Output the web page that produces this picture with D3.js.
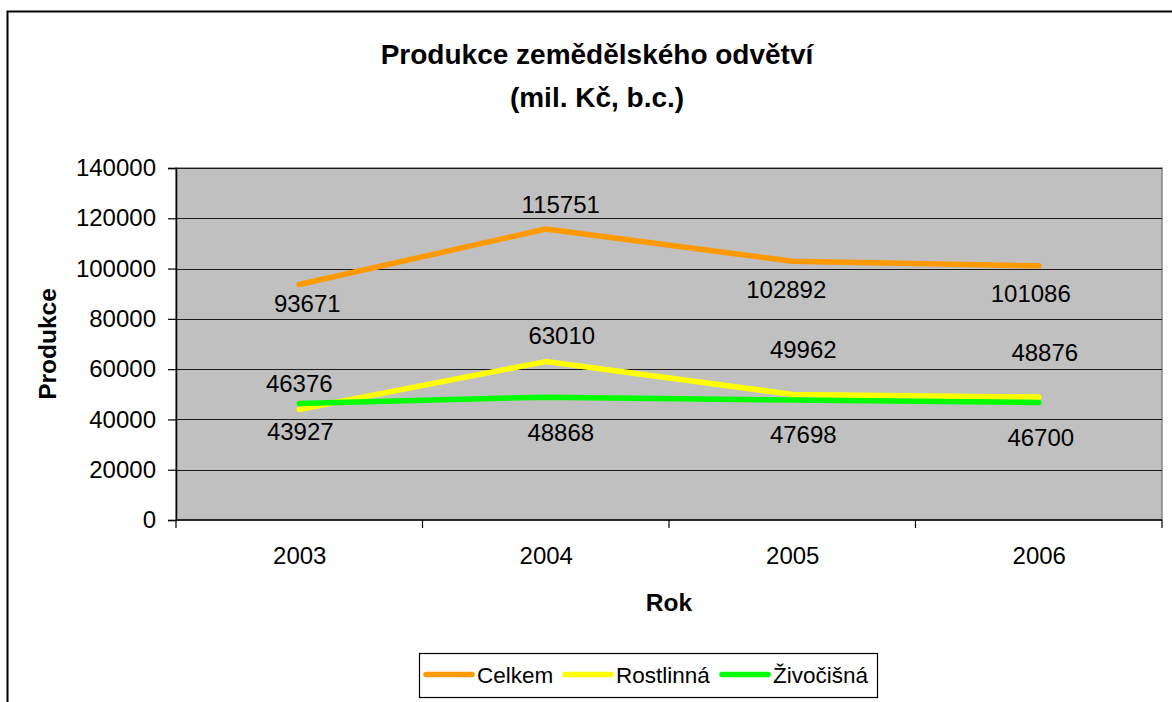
<!DOCTYPE html>
<html>
<head>
<meta charset="utf-8">
<script src="https://cdn.jsdelivr.net/npm/d3@7"></script>
<style>
  body { margin: 0; background: #fff; }
  text { font-family: "Liberation Sans", Arial, sans-serif; fill: #000; }
</style>
</head>
<body>
<script>
// data
const years = ["2003", "2004", "2005", "2006"];
const celkem = [93671, 115751, 102892, 101086];
const rostlinna = [43927, 63010, 49962, 48876];
const zivocisna = [46376, 48868, 47698, 46700];
const seriesNames = ["Celkem", "Rostlinná", "Živočišná"];
const yTicks = [0, 20000, 40000, 60000, 80000, 100000, 120000, 140000];

// label nudges (px) relative to each point, as placed in the original
const labelShift = [
  [[8, 19], [15, -25], [-6, 28], [-8, 28]],
  [[1, 22], [16, -26], [11, -45], [6, -45]],
  [[0, -20], [15, 35], [11, 34], [2, 35]]
];

const width = 1172, height = 702;
const plot = {left: 176, right: 1162, top: 168, bottom: 520};
const colors = ["#FF9900", "#FFFF00", "#00FF00"];

const svg = d3.select("body").append("svg")
    .attr("width", width)
    .attr("height", height);

// outer chart border (cropped at right / bottom)
svg.append("path")
    .attr("d", `M7.5,${height} V11.5 H${width}`)
    .attr("fill", "none")
    .attr("stroke", "#000")
    .attr("stroke-width", 2);

const x = d3.scalePoint()
    .domain(years)
    .range([plot.left, plot.right])
    .padding(0.5);

const xBand = d3.scaleBand()
    .domain(years)
    .range([plot.left, plot.right]);

const y = d3.scaleLinear()
    .domain([0, 140000])
    .range([plot.bottom, plot.top]);

// plot area
svg.append("rect")
    .attr("x", plot.left)
    .attr("y", plot.top)
    .attr("width", plot.right - plot.left)
    .attr("height", plot.bottom - plot.top)
    .attr("fill", "#C0C0C0")
    .attr("stroke", "#808080")
    .attr("stroke-width", 1.5);

// gridlines
svg.append("g")
    .selectAll("line")
    .data(yTicks.slice(1))
    .join("line")
    .attr("x1", plot.left)
    .attr("x2", plot.right)
    .attr("y1", d => Math.round(y(d)) + 0.5)
    .attr("y2", d => Math.round(y(d)) + 0.5)
    .attr("stroke", "#1a1a1a")
    .attr("stroke-width", 1.2);

// y axis
const yAxis = svg.append("g")
    .attr("transform", `translate(${plot.left},0)`)
    .call(d3.axisLeft(y).tickValues(yTicks).tickFormat(d3.format("d")).tickSize(8).tickPadding(12));
yAxis.select(".domain").attr("stroke", "#000").attr("stroke-width", 1.5);
yAxis.selectAll(".tick line").attr("stroke", "#000").attr("stroke-width", 1.2);
yAxis.selectAll("text").style("font-size", "24px").attr("fill", "#000");

// x axis
const xAxis = svg.append("g")
    .attr("transform", `translate(0,${plot.bottom})`)
    .call(d3.axisBottom(x).tickSize(0).tickPadding(27));
xAxis.select(".domain").remove();
xAxis.selectAll("text").style("font-size", "24px").attr("fill", "#000");

svg.append("line")
    .attr("x1", plot.left).attr("x2", plot.right)
    .attr("y1", plot.bottom).attr("y2", plot.bottom)
    .attr("stroke", "#000").attr("stroke-width", 1.5);

const bounds = years.map(d => xBand(d)).concat([xBand(years[years.length - 1]) + xBand.bandwidth()]);
svg.append("g")
    .selectAll("line")
    .data(bounds)
    .join("line")
    .attr("x1", d => d).attr("x2", d => d)
    .attr("y1", plot.bottom).attr("y2", plot.bottom + 8)
    .attr("stroke", "#000").attr("stroke-width", 1.2);

// lines
const allSeries = [celkem, rostlinna, zivocisna];
const line = d3.line()
    .x((d, i) => x(years[i]))
    .y(d => y(d));

svg.append("g")
    .selectAll("path")
    .data(allSeries)
    .join("path")
    .attr("d", line)
    .attr("fill", "none")
    .attr("stroke", (d, i) => colors[i])
    .attr("stroke-width", 5.5)
    .attr("stroke-linejoin", "round")
    .attr("stroke-linecap", "round");

// data labels
allSeries.forEach((vals, s) => {
  svg.append("g")
    .selectAll("text")
    .data(vals)
    .join("text")
    .attr("x", (d, i) => x(years[i]) + labelShift[s][i][0])
    .attr("y", (d, i) => y(d) + labelShift[s][i][1])
    .attr("dy", "0.36em")
    .attr("text-anchor", "middle")
    .style("font-size", "24px")
    .text(d => d);
});

// titles
svg.append("text")
    .attr("x", 597).attr("y", 64)
    .attr("text-anchor", "middle")
    .style("font-size", "28px").style("font-weight", "bold")
    .text("Produkce zemědělského odvětví");
svg.append("text")
    .attr("x", 597).attr("y", 107)
    .attr("text-anchor", "middle")
    .style("font-size", "28px").style("font-weight", "bold")
    .text("(mil. Kč, b.c.)");

svg.append("text")
    .attr("x", (plot.left + plot.right) / 2)
    .attr("y", 611)
    .attr("text-anchor", "middle")
    .style("font-size", "24.5px").style("font-weight", "bold")
    .text("Rok");

svg.append("text")
    .attr("transform", `translate(56,${(plot.top + plot.bottom) / 2}) rotate(-90)`)
    .attr("text-anchor", "middle")
    .style("font-size", "24.5px").style("font-weight", "bold")
    .text("Produkce");

// legend
const legend = svg.append("g");
legend.append("rect")
    .attr("x", 419.5).attr("y", 653.5)
    .attr("width", 458).attr("height", 44)
    .attr("fill", "#fff")
    .attr("stroke", "#000")
    .attr("stroke-width", 1.2);

const legendX = [426, 565, 722];
seriesNames.forEach((name, i) => {
  legend.append("line")
    .attr("x1", legendX[i]).attr("x2", legendX[i] + 46)
    .attr("y1", 674.5).attr("y2", 674.5)
    .attr("stroke", colors[i])
    .attr("stroke-width", 5.5)
    .attr("stroke-linecap", "round");
  legend.append("text")
    .attr("x", legendX[i] + 51)
    .attr("y", 674.5)
    .attr("dy", "0.36em")
    .style("font-size", "22.5px")
    .text(name);
});
</script>
</body>
</html>
